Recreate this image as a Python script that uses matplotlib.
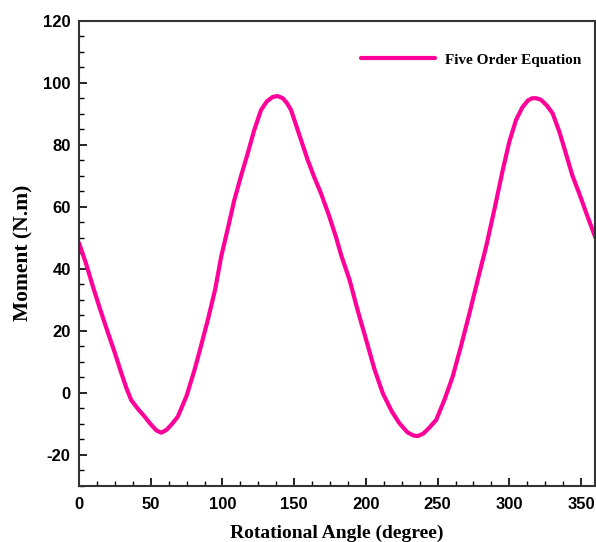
import matplotlib
matplotlib.use("Agg")
import matplotlib.pyplot as plt
from matplotlib.ticker import MultipleLocator

plt.rcParams["axes.unicode_minus"] = False

# values
angle = [0, 5, 9.7, 15, 20.2, 25, 29.5, 33, 36.4, 41, 45.7, 50, 54, 57.3, 61, 65, 68.9,
         75, 80.5, 85, 89.8, 95, 99.1, 104, 108.3, 113, 117.6, 122, 126.9, 131, 135,
         138.5, 142, 145, 147.8, 153, 159.4, 164, 168.7, 174, 179.1, 183, 188.6, 194,
         200.2, 206, 211.8, 218, 223.4, 229, 233, 236.2, 240, 244, 249, 255, 260.5,
         266, 272.2, 278, 283.8, 290, 295.4, 300, 304.7, 309, 313, 316, 318.6, 322,
         326, 330.2, 335, 339.4, 344, 348.7, 354, 360]
moment = [48.3, 41.5, 34.2, 26.5, 19.3, 12.8, 6.3, 1.5, -2.4, -5.2, -7.7, -10.2, -12.2,
          -12.9, -12.0, -10.0, -7.7, -1.0, 7.3, 15.0, 23.5, 33.5, 43.9, 53.5, 62.2,
          70.0, 77.2, 84.5, 91.2, 94.0, 95.4, 95.7, 95.0, 93.4, 91.2, 84.0, 75.1,
          69.5, 64.3, 57.5, 50.3, 44.0, 36.4, 27.0, 17.0, 7.5, -0.2, -6.0, -9.9,
          -12.8, -13.8, -14.0, -13.2, -11.4, -8.8, -2.0, 5.2, 14.5, 25.6, 36.5, 47.1,
          60.0, 71.8, 81.0, 88.0, 92.0, 94.3, 95.0, 95.0, 94.5, 92.7, 90.1, 84.0,
          77.2, 70.0, 64.3, 57.5, 50.0]
series_label = "Five Order Equation"

fig = plt.figure(figsize=(5.96, 5.42), dpi=100)
ax = fig.add_axes([0.1326, 0.1039, 0.8664, 0.8579])

ax.plot(angle, moment, color="#FF0099", lw=3.0, label=series_label,
        solid_capstyle="round", solid_joinstyle="round")

ax.set_xlim(0, 360)
ax.set_ylim(-30, 120)
ax.xaxis.set_major_locator(MultipleLocator(50))
ax.xaxis.set_minor_locator(MultipleLocator(12.5))
ax.yaxis.set_major_locator(MultipleLocator(20))
ax.yaxis.set_minor_locator(MultipleLocator(5))

ax.tick_params(which="both", direction="in", top=False, right=False)
ax.tick_params(which="major", length=6, width=1.2)
ax.tick_params(which="minor", length=3.5, width=1.0)
for lab in ax.get_xticklabels() + ax.get_yticklabels():
    lab.set_fontfamily("Liberation Sans")
    lab.set_fontweight("bold")
    lab.set_fontsize(12)
ax.tick_params(axis="x", pad=8)
ax.tick_params(axis="y", pad=6)

for spine in ax.spines.values():
    spine.set_linewidth(1.5)
    spine.set_color("#333333")

ax.set_xlabel("Rotational Angle (degree)", fontfamily="Liberation Serif",
              fontweight="bold", fontsize=14, labelpad=9)
ax.set_ylabel("Moment (N.m)", fontfamily="Liberation Serif",
              fontweight="bold", fontsize=15.5, labelpad=7)

ax.legend(loc="upper right", frameon=False, handlelength=4.8, handletextpad=0.7,
          bbox_to_anchor=(1.0, 0.96),
          prop={"family": "Liberation Serif", "weight": "bold", "size": 11})

fig.savefig("out.png", dpi=100)
